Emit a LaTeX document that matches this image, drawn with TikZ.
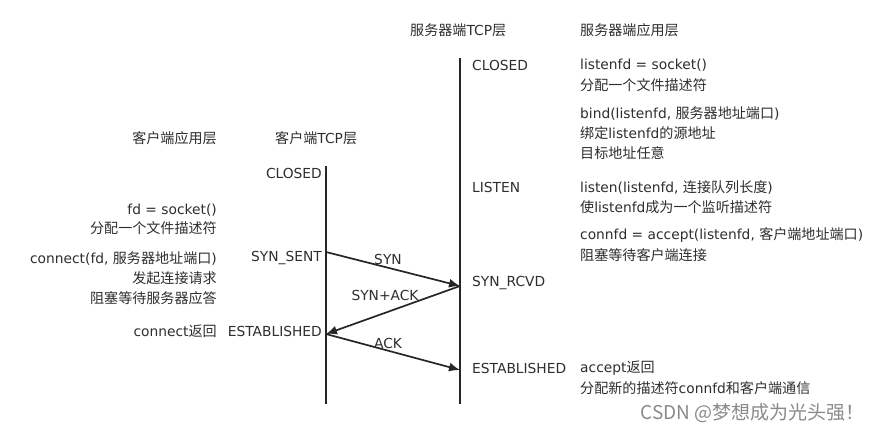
\documentclass[tikz,border=0pt]{standalone}
\usepackage{fontspec}
\setmainfont{DejaVu Sans}
\newfontfamily\zhfont[Scale=1.02]{Noto Sans CJK SC}
\newfontfamily\wmfont{Noto Sans CJK SC}
\newcommand\zh[1]{{\zhfont #1}}
\usetikzlibrary{arrows.meta}
\definecolor{txt}{HTML}{2E2E2E}
\definecolor{ln}{HTML}{262626}
\definecolor{wm}{HTML}{8A8A8A}
\begin{document}
\begin{tikzpicture}[x=1pt,y=-1pt,
  lbl/.style={inner sep=0pt, text=txt, font=\fontsize{13.8}{16}\selectfont},
  le/.style={lbl, anchor=east},
  lw/.style={lbl, anchor=west},
  lc/.style={lbl, anchor=center},
  life/.style={line width=2.4pt, draw=ln},
  msg/.style={line width=1.7pt, draw=ln, -{Latex[length=11pt,width=9pt]}},
]
\useasboundingbox[fill=white] (0,0) rectangle (880,433);

% lifelines
\coordinate (ctop) at (326,166);
\coordinate (cbot) at (326,404);
\coordinate (stop) at (460,58);
\coordinate (sbot) at (460,404);
\draw[life] (ctop) -- (cbot);
\draw[life] (stop) -- (sbot);

% headers
\node[le] (hca) at (217,138) {\zh{客户端应用层}};
\node[lw] (hct) at (275,138) {\zh{客户端}TCP\zh{层}};
\node[lw] (hst) at (410,30) {\zh{服务器端}TCP\zh{层}};
\node[lw] (hsa) at (580,30) {\zh{服务器端应用层}};

% client TCP states
\node[le] (cclosed) at (322,173) {CLOSED};
\node[le] (csent) at (322,258) {SYN\_SENT};
\node[le] (cest) at (322,331) {ESTABLISHED};

% client app
\node[le] (ca1) at (217,210) {fd = socket()};
\node[le] (ca2) at (217,228) {\zh{分配一个文件描述符}};
\node[le] (ca3) at (217,258) {connect(fd, \zh{服务器地址端口})};
\node[le] (ca4) at (217,278) {\zh{发起连接请求}};
\node[le] (ca5) at (217,298) {\zh{阻塞等待服务器应答}};
\node[le] (ca6) at (217,331) {connect\zh{返回}};

% server TCP states
\node[lw] (sclosed) at (472,65) {CLOSED};
\node[lw] (slisten) at (472,187) {LISTEN};
\node[lw] (srcvd) at (472,283) {SYN\_RCVD};
\node[lw] (sest) at (472,368) {ESTABLISHED};

% server app
\node[lw] (sa1) at (580,65) {listenfd = socket()};
\node[lw] (sa2) at (580,85) {\zh{分配一个文件描述符}};
\node[lw] (sa3) at (580,113) {bind(listenfd, \zh{服务器地址端口})};
\node[lw] (sa4) at (580,133) {\zh{绑定}listenfd\zh{的源地址}};
\node[lw] (sa5) at (580,153) {\zh{目标地址任意}};
\node[lw] (sa6) at (580,187) {listen(listenfd, \zh{连接队列长度})};
\node[lw] (sa7) at (580,207) {\zh{使}listenfd\zh{成为一个监听描述符}};
\node[lw] (sa8) at (580,235) {connfd = accept(listenfd, \zh{客户端地址端口})};
\node[lw] (sa9) at (580,255) {\zh{阻塞等待客户端连接}};
\node[lw] (sa10) at (580,368) {accept\zh{返回}};
\node[lw] (sa11) at (580,388) {\zh{分配新的描述符}connfd\zh{和客户端通信}};

% messages
\coordinate (syn0) at (326,252);
\coordinate (syn1) at (460,286);
\coordinate (ack0) at (326,334);
\coordinate (ack1) at (460,370);
\draw[msg] (syn0) -- (syn1);
\draw[msg] (syn1) -- (ack0);
\draw[msg] (ack0) -- (ack1);
\node[lc] (lsyn) at (388,259) {SYN};
\node[lc] (lsynack) at (385,295) {SYN+ACK};
\node[lc] (lack) at (388,343) {ACK};

% watermark
\node[inner sep=0pt, anchor=east, text=wm, font=\wmfont\fontsize{19}{22}\selectfont] (wmk) at (865,413) {CSDN @梦想成为光头强！};
\end{tikzpicture}
\end{document}
